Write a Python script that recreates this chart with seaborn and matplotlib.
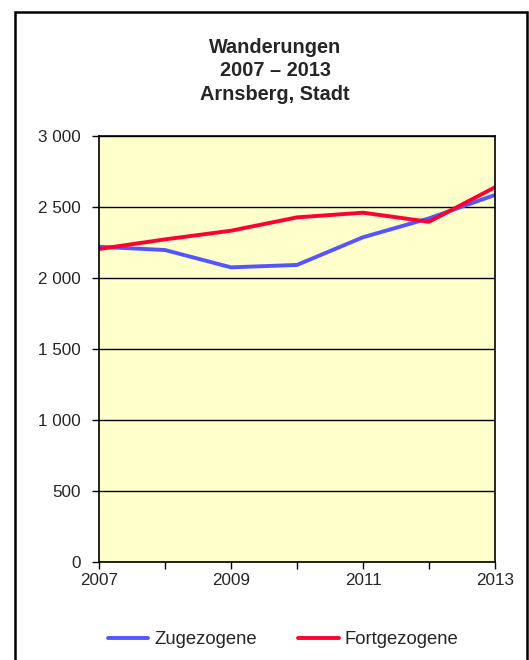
import matplotlib
matplotlib.use("Agg")
import matplotlib.pyplot as plt
import matplotlib.ticker as mticker
from matplotlib.patches import Rectangle
import seaborn as sns
import pandas as pd

# Daten
jahre = [2007, 2008, 2009, 2010, 2011, 2012, 2013]
zugezogene = [2220, 2197, 2075, 2092, 2287, 2420, 2585]
fortgezogene = [2204, 2272, 2333, 2427, 2460, 2396, 2639]
serien = ["Zugezogene", "Fortgezogene"]
farben = ["#5555ff", "#ff0033"]

df = pd.DataFrame({
    "Jahr": jahre * 2,
    "Wert": zugezogene + fortgezogene,
    "Serie": [serien[0]] * len(jahre) + [serien[1]] * len(jahre),
})

sns.set_style("white")
plt.rcParams["font.family"] = ["Liberation Sans", "DejaVu Sans"]

fig = plt.figure(figsize=(5.29, 6.6), dpi=100)
ax = fig.add_axes([99 / 529, 1 - 562 / 660, (495 - 99) / 529, (562 - 136) / 660])

# Rahmen um das ganze Diagramm
fig.patches.append(Rectangle((15 / 529, -0.05), (527 - 15) / 529, 1 - 12 / 660 + 0.05,
                             transform=fig.transFigure, fill=False, edgecolor="black",
                             linewidth=1.8, zorder=0))

sns.lineplot(data=df, x="Jahr", y="Wert", hue="Serie", palette=farben,
             linewidth=2.8, ax=ax, legend=False)

ax.set_facecolor("#ffffcc")
ax.set_xlim(2007, 2013)
ax.set_ylim(0, 3000)
ax.set_yticks(range(0, 3001, 500))
ax.yaxis.set_major_formatter(mticker.FuncFormatter(lambda v, p: f"{int(v):,}".replace(",", " ")))
ax.set_xticks(jahre)
ax.set_xticklabels([str(j) if j % 2 == 1 else "" for j in jahre])
ax.grid(axis="y", color="black", linewidth=1.0)
ax.set_axisbelow(True)
for s in ax.spines.values():
    s.set_color("black")
    s.set_linewidth(1.2)
ax.tick_params(axis="y", direction="out", length=5, width=1, color="black",
               labelsize=12.3, pad=8, left=True)
ax.tick_params(axis="x", direction="out", length=5, width=1, color="black",
               labelsize=12.3, pad=3, bottom=True)
ax.set_xlabel("")
ax.set_ylabel("")

fig.text(275 / 529, 1 - 71 / 660, "Wanderungen\n2007 \u2013 2013\nArnsberg, Stadt",
         ha="center", va="center", fontsize=14.3, fontweight="bold", linespacing=1.3)

# Legende
handles = [plt.Line2D([], [], color=c, linewidth=2.8) for c in farben]
fig.legend(handles, serien, loc="center", bbox_to_anchor=(283 / 529, 1 - 640 / 660),
           ncol=2, frameon=False, fontsize=13.3, handlelength=2.2, handletextpad=0.3,
           columnspacing=2.25)

fig.savefig("out.png", dpi=100)
